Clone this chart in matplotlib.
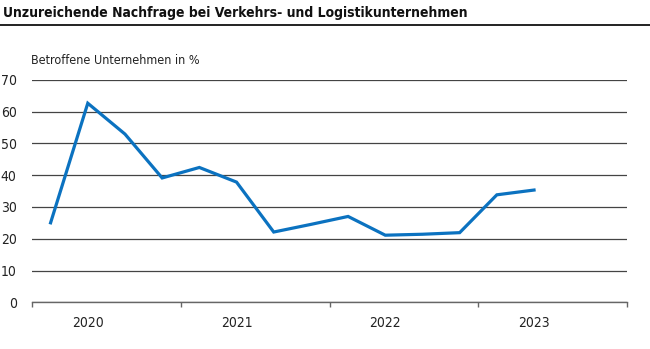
import numpy as np
import matplotlib.pyplot as plt
from matplotlib.ticker import FixedLocator

plt.rcParams['font.family'] = ['DejaVu Sans']
plt.rcParams['font.stretch'] = 'condensed'

# quarterly survey results, Q1 2020 to Q2 2023
quarters = ["2020Q1", "2020Q2", "2020Q3", "2020Q4",
            "2021Q1", "2021Q2", "2021Q3", "2021Q4",
            "2022Q1", "2022Q2", "2022Q3", "2022Q4",
            "2023Q1", "2023Q2"]
share = [25.0, 62.6, 52.9, 39.1, 42.4, 37.8, 22.1, 24.5,
         27.0, 21.1, 21.4, 21.9, 33.8, 35.3]
years = ["2020", "2021", "2022", "2023"]
yticks = [0, 10, 20, 30, 40, 50, 60, 70]

fig = plt.figure(figsize=(6.5, 3.49), dpi=100)
ax = fig.add_axes([32 / 650, 46.7 / 349, 595 / 650, 222.6 / 349])

x = np.arange(len(quarters)) + 0.5
ax.plot(x, share, color="#0b72c0", lw=2.3, solid_joinstyle="miter", zorder=3)

ax.set_xlim(0, 4 * len(years))
ax.set_ylim(0, 70)

ax.set_yticks(yticks)
ax.yaxis.grid(True, color="#444444", lw=0.9)
ax.tick_params(axis="y", length=0, pad=11, labelsize=10, colors="#222222")
for lbl in ax.get_yticklabels():
    lbl.set_horizontalalignment("right")

# year boundaries as ticks, year names placed under the second quarter
ax.xaxis.set_major_locator(FixedLocator(np.arange(0, 4 * len(years) + 1, 4)))
ax.xaxis.set_minor_locator(FixedLocator(np.arange(1.5, 4 * len(years), 4)))
ax.set_xticklabels([], minor=False)
ax.set_xticklabels(years, minor=True)
ax.tick_params(axis="x", which="major", length=3.5, width=1, color="#666666", direction="out")
ax.tick_params(axis="x", which="minor", length=0, pad=10, labelsize=10, colors="#222222")

for side in ["top", "right", "left"]:
    ax.spines[side].set_visible(False)
ax.spines["bottom"].set_color("#666666")
ax.spines["bottom"].set_linewidth(1)
ax.set_axisbelow(True)

fig.text(3 / 650, 1 - 13 / 349, "Unzureichende Nachfrage bei Verkehrs- und Logistikunternehmen",
         fontsize=10, fontweight="bold", va="center", ha="left", color="#111111")
fig.add_artist(plt.Line2D([0, 1], [1 - 24.5 / 349, 1 - 24.5 / 349], color="#111111", lw=1.3))
fig.text(31 / 650, 1 - 61 / 349, "Betroffene Unternehmen in %",
         fontsize=9, va="center", ha="left", color="#222222")

fig.savefig("out.png", dpi=100)
